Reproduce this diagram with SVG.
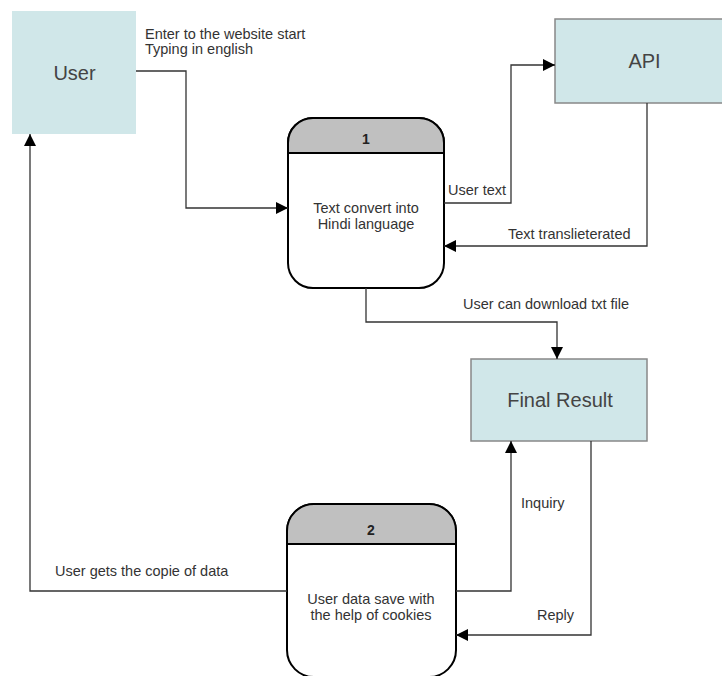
<svg xmlns="http://www.w3.org/2000/svg" width="722" height="676" viewBox="0 0 722 676">
<style>
.ent{fill:#d0e7e9;stroke:#888;stroke-width:1.5}
.entl{font-family:"Liberation Sans",Arial,sans-serif;font-size:20px;fill:#444;text-anchor:middle}
.proc{fill:#fff;stroke:#000;stroke-width:2}
.hdr{fill:#c0c0c0;stroke:#000;stroke-width:2}
.num{font-family:"Liberation Sans",Arial,sans-serif;font-size:14px;font-weight:bold;fill:#222;text-anchor:middle}
.pt{font-family:"Liberation Sans",Arial,sans-serif;font-size:14.5px;fill:#333;text-anchor:middle}
.lbl{font-family:"Liberation Sans",Arial,sans-serif;font-size:14.5px;fill:#333}
.con{fill:none;stroke:#333;stroke-width:1.3}
</style>
<defs>
<marker id="arr" viewBox="0 0 12 12" refX="12" refY="6" markerWidth="12" markerHeight="12" markerUnits="userSpaceOnUse" orient="auto">
<path d="M0,0 L12,6 L0,12 z" fill="#000"/>
</marker>
</defs>
<rect width="722" height="676" fill="#fff"/>
<g id="user">
<rect x="12" y="11" width="124" height="123" fill="#d0e7e9"/>
<text class="entl" x="74.5" y="80">User</text>
</g>
<g id="api">
<rect class="ent" x="555" y="19" width="170" height="84"/>
<text class="entl" x="644.5" y="68">API</text>
</g>
<g id="final">
<rect class="ent" x="471" y="359" width="176" height="82"/>
<text class="entl" x="560" y="407">Final Result</text>
</g>
<g id="p1">
<path class="proc" d="M288,143 A25,25 0 0 1 313,118 L419,118 A25,25 0 0 1 444,143 L444,263 A25,25 0 0 1 419,288 L313,288 A25,25 0 0 1 288,263 Z"/>
<path class="hdr" d="M288,153 L288,143 A25,25 0 0 1 313,118 L419,118 A25,25 0 0 1 444,143 L444,153 Z"/>
<text class="num" x="366" y="144">1</text>
<text class="pt" x="366" y="213">Text convert into</text>
<text class="pt" x="366" y="229">Hindi language</text>
</g>
<g id="p2">
<path class="proc" d="M287,531 A27,27 0 0 1 314,504 L429,504 A27,27 0 0 1 456,531 L456,650 A27,27 0 0 1 429,677 L314,677 A27,27 0 0 1 287,650 Z"/>
<path class="hdr" d="M287,544 L287,531 A27,27 0 0 1 314,504 L429,504 A27,27 0 0 1 456,531 L456,544 Z"/>
<text class="num" x="371" y="535">2</text>
<text class="pt" x="371" y="604">User data save with</text>
<text class="pt" x="371" y="620">the help of cookies</text>
</g>
<g id="connectors">
<path class="con" d="M136,71 L186,71 L186,208 L288,208" marker-end="url(#arr)"/>
<text class="lbl" x="145" y="39">Enter to the website start</text>
<text class="lbl" x="145" y="54">Typing in english</text>
<path class="con" d="M444,203 L511,203 L511,65 L555,65" marker-end="url(#arr)"/>
<text class="lbl" x="448" y="195">User text</text>
<path class="con" d="M647,103 L647,246 L444,246" marker-end="url(#arr)"/>
<text class="lbl" x="508" y="239">Text translieterated</text>
<path class="con" d="M366,288 L366,322 L557,322 L557,359" marker-end="url(#arr)"/>
<text class="lbl" x="463" y="309">User can download txt file</text>
<path class="con" d="M287,591 L30,591 L30,134" marker-end="url(#arr)"/>
<text class="lbl" x="55" y="576">User gets the copie of data</text>
<path class="con" d="M456,591 L511,591 L511,441" marker-end="url(#arr)"/>
<text class="lbl" x="521" y="508">Inquiry</text>
<path class="con" d="M591,441 L591,635 L456,635" marker-end="url(#arr)"/>
<text class="lbl" x="537" y="620">Reply</text>
</g>
</svg>
